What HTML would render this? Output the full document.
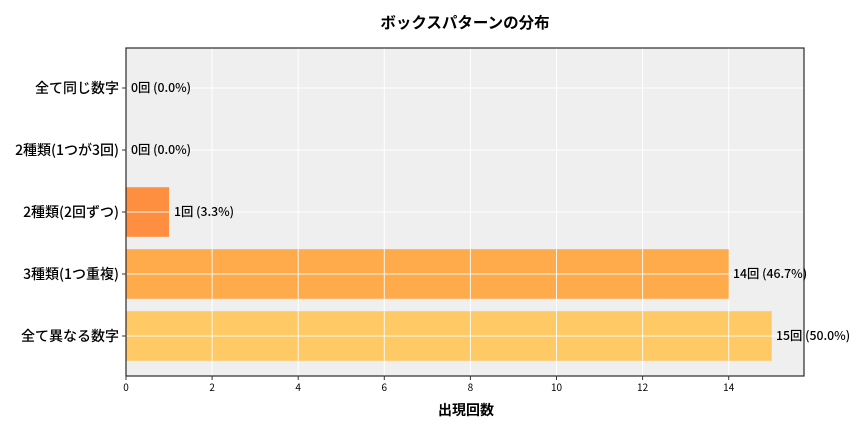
<!DOCTYPE html>
<html>
<head>
<meta charset="utf-8">
<style>
html,body{margin:0;padding:0;background:#fff;}
svg{display:block;}
text{font-family:"Noto Sans CJK JP","Liberation Sans",sans-serif;fill:#000;}
</style>
</head>
<body>
<svg width="864" height="432" viewBox="0 0 864 432" xmlns="http://www.w3.org/2000/svg">
  <rect x="0" y="0" width="864" height="432" fill="#ffffff"/>
  <rect x="126" y="48" width="678" height="328" fill="#efefef"/>
  <g stroke="#ffffff" stroke-width="1">
    <line x1="212.1" y1="48" x2="212.1" y2="376"/>
    <line x1="298.2" y1="48" x2="298.2" y2="376"/>
    <line x1="384.3" y1="48" x2="384.3" y2="376"/>
    <line x1="470.4" y1="48" x2="470.4" y2="376"/>
    <line x1="556.5" y1="48" x2="556.5" y2="376"/>
    <line x1="642.6" y1="48" x2="642.6" y2="376"/>
    <line x1="728.7" y1="48" x2="728.7" y2="376"/>
    <line x1="126" y1="88" x2="804" y2="88"/>
    <line x1="126" y1="150" x2="804" y2="150"/>
    <line x1="126" y1="212" x2="804" y2="212"/>
    <line x1="126" y1="274" x2="804" y2="274"/>
    <line x1="126" y1="336" x2="804" y2="336"/>
  </g>
  <rect x="126" y="187.2" width="43.05" height="49.6" fill="#ff8f40"/>
  <rect x="126" y="249.2" width="602.7" height="49.6" fill="#ffaa4b"/>
  <rect x="126" y="311.2" width="645.75" height="49.6" fill="#ffc966"/>
  <g stroke="#ffffff" stroke-width="1" opacity="0.9">
    <line x1="212.1" y1="249.2" x2="212.1" y2="298.8"/>
    <line x1="298.2" y1="249.2" x2="298.2" y2="298.8"/>
    <line x1="384.3" y1="249.2" x2="384.3" y2="298.8"/>
    <line x1="470.4" y1="249.2" x2="470.4" y2="298.8"/>
    <line x1="556.5" y1="249.2" x2="556.5" y2="298.8"/>
    <line x1="642.6" y1="249.2" x2="642.6" y2="298.8"/>
    <line x1="212.1" y1="311.2" x2="212.1" y2="360.8"/>
    <line x1="298.2" y1="311.2" x2="298.2" y2="360.8"/>
    <line x1="384.3" y1="311.2" x2="384.3" y2="360.8"/>
    <line x1="470.4" y1="311.2" x2="470.4" y2="360.8"/>
    <line x1="556.5" y1="311.2" x2="556.5" y2="360.8"/>
    <line x1="642.6" y1="311.2" x2="642.6" y2="360.8"/>
    <line x1="728.7" y1="311.2" x2="728.7" y2="360.8"/>
    <line x1="126" y1="212" x2="169" y2="212"/>
    <line x1="126" y1="274" x2="728.7" y2="274"/>
    <line x1="126" y1="336" x2="771.7" y2="336"/>
  </g>
  <rect x="126" y="48" width="678" height="328" fill="none" stroke="#2a2a2a" stroke-width="1.2"/>
  <g stroke="#333" stroke-width="1">
    <line x1="122" y1="88" x2="126" y2="88"/>
    <line x1="122" y1="150" x2="126" y2="150"/>
    <line x1="122" y1="212" x2="126" y2="212"/>
    <line x1="122" y1="274" x2="126" y2="274"/>
    <line x1="122" y1="336" x2="126" y2="336"/>
    <line x1="126" y1="376" x2="126" y2="380"/>
    <line x1="212.1" y1="376" x2="212.1" y2="380"/>
    <line x1="298.2" y1="376" x2="298.2" y2="380"/>
    <line x1="384.3" y1="376" x2="384.3" y2="380"/>
    <line x1="470.4" y1="376" x2="470.4" y2="380"/>
    <line x1="556.5" y1="376" x2="556.5" y2="380"/>
    <line x1="642.6" y1="376" x2="642.6" y2="380"/>
    <line x1="728.7" y1="376" x2="728.7" y2="380"/>
  </g>
  <g font-size="14" text-anchor="end" font-weight="500">
    <text x="119" y="93">全て同じ数字</text>
    <text x="119" y="155">2種類(1つが3回)</text>
    <text x="119" y="217">2種類(2回ずつ)</text>
    <text x="119" y="279">3種類(1つ重複)</text>
    <text x="119" y="341">全て異なる数字</text>
  </g>
  <g font-size="10" text-anchor="middle">
    <text x="126" y="391">0</text>
    <text x="212.1" y="391">2</text>
    <text x="298.2" y="391">4</text>
    <text x="384.3" y="391">6</text>
    <text x="470.4" y="391">8</text>
    <text x="556.5" y="391">10</text>
    <text x="642.6" y="391">12</text>
    <text x="728.7" y="391">14</text>
  </g>
  <g font-size="12.3" font-weight="500">
    <text x="131" y="92">0回 (0.0%)</text>
    <text x="131" y="154">0回 (0.0%)</text>
    <text x="174" y="216">1回 (3.3%)</text>
    <text x="733" y="278">14回 (46.7%)</text>
    <text x="776" y="340">15回 (50.0%)</text>
  </g>
  <text x="465" y="28" font-size="15.5" font-weight="bold" text-anchor="middle">ボックスパターンの分布</text>
  <text x="466" y="415" font-size="14" font-weight="bold" text-anchor="middle">出現回数</text>
</svg>
</body>
</html>
